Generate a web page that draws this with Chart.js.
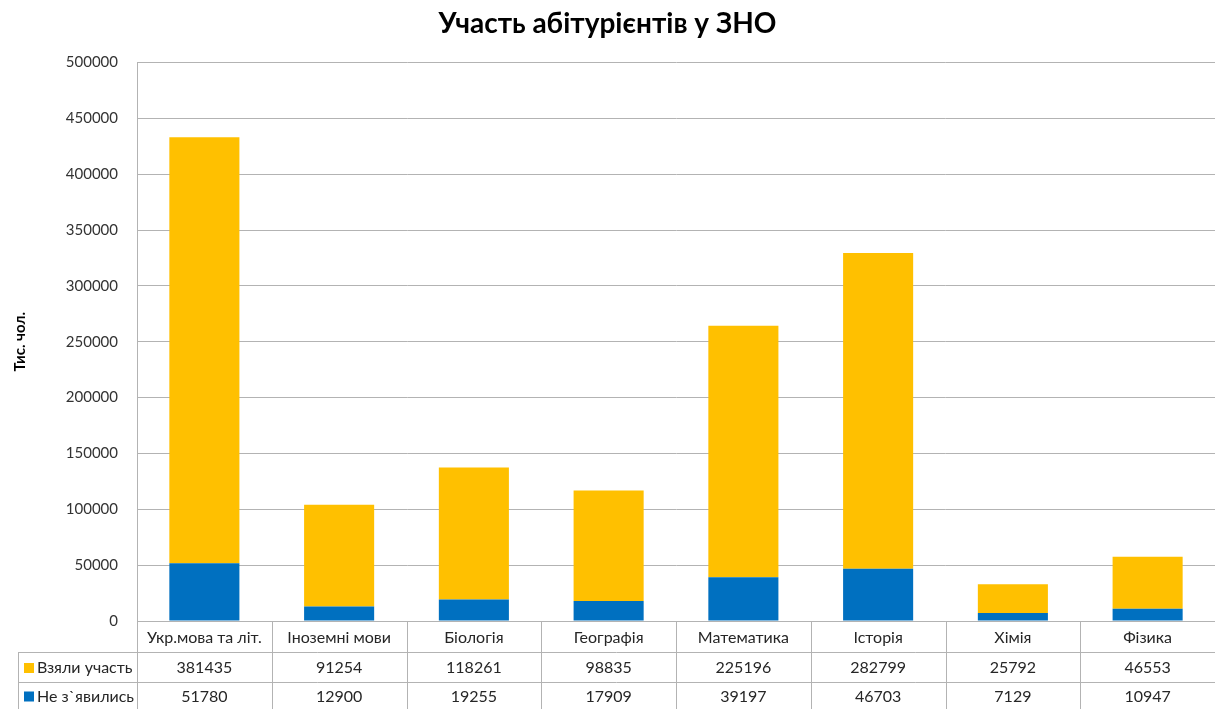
<!DOCTYPE html>
<html>
<head>
<meta charset="utf-8">
<script src="https://cdn.jsdelivr.net/npm/chart.js@4"></script>
<style>
  html, body { margin: 0; padding: 0; background: #fff; }
  #wrap { width: 1215px; height: 709px; position: relative; }
</style>
</head>
<body>
<div id="wrap"><canvas id="chart"></canvas></div>
<script>
// дані з таблиці
var categories = ["Укр.мова та літ.", "Іноземні мови", "Біологія", "Географія", "Математика", "Історія", "Хімія", "Фізика"];
var tookPart = [381435, 91254, 118261, 98835, 225196, 282799, 25792, 46553];
var noShow = [51780, 12900, 19255, 17909, 39197, 46703, 7129, 10947];
var seriesNames = ["Взяли участь", "Не з`явились"];
var yTicks = [0, 50000, 100000, 150000, 200000, 250000, 300000, 350000, 400000, 450000, 500000];

var yellow = "#FFC000";
var blue = "#0070C0";
var lineColor = "#b3b3b3";
var fontFamily = "Lato, 'Open Sans', sans-serif";

// таблиця під графіком
var dataTable = {
    id: "dataTable",
    afterDraw: function (chart) {
        var ctx = chart.ctx;
        var area = chart.chartArea;
        var xs = chart.scales.x;
        var n = categories.length;
        var colW = (area.right - area.left) / n;
        var top = area.bottom;
        var rows = [top, top + 31, top + 61, chart.height + 2];
        var legendLeft = 18;

        ctx.save();
        ctx.strokeStyle = lineColor;
        ctx.lineWidth = 1;
        ctx.beginPath();
        // горизонтальні лінії
        ctx.moveTo(area.left, rows[0] + 0.5);
        ctx.lineTo(chart.width, rows[0] + 0.5);
        ctx.moveTo(legendLeft, rows[1] + 0.5);
        ctx.lineTo(chart.width, rows[1] + 0.5);
        ctx.moveTo(legendLeft, rows[2] + 0.5);
        ctx.lineTo(chart.width, rows[2] + 0.5);
        // вертикальні лінії
        for (var i = 0; i <= n; i++) {
            var x = Math.round(area.left + i * colW) + 0.5;
            ctx.moveTo(x, rows[0]);
            ctx.lineTo(x, rows[3]);
        }
        ctx.moveTo(legendLeft + 0.5, rows[1]);
        ctx.lineTo(legendLeft + 0.5, rows[3]);
        ctx.stroke();

        ctx.fillStyle = "#262626";
        ctx.font = "16px " + fontFamily;
        ctx.textAlign = "center";
        ctx.textBaseline = "middle";
        for (var j = 0; j < n; j++) {
            var cx = xs.getPixelForValue(j);
            ctx.fillText(categories[j], cx, (rows[0] + rows[1]) / 2 + 1);
            ctx.fillText(String(tookPart[j]), cx, (rows[1] + rows[2]) / 2 + 1);
            ctx.fillText(String(noShow[j]), cx, (rows[2] + chart.height) / 2 + 1);
        }

        // легенда в першій колонці
        var legendRows = [[yellow, seriesNames[0], (rows[1] + rows[2]) / 2 + 1], [blue, seriesNames[1], (rows[2] + chart.height) / 2 + 1]];
        ctx.textAlign = "left";
        legendRows.forEach(function (r) {
            ctx.fillStyle = r[0];
            ctx.fillRect(24, r[2] - 5, 10, 10);
            ctx.fillStyle = "#262626";
            ctx.fillText(r[1], 37, r[2]);
        });
        ctx.restore();
    }
};

var ctx = document.getElementById("chart").getContext("2d");
var chart = new Chart(ctx, {
    type: "bar",
    data: {
        labels: categories,
        datasets: [
            {
                label: seriesNames[1],
                data: noShow,
                backgroundColor: blue,
                categoryPercentage: 1,
                barPercentage: 0.52
            },
            {
                label: seriesNames[0],
                data: tookPart,
                backgroundColor: yellow,
                categoryPercentage: 1,
                barPercentage: 0.52
            }
        ]
    },
    options: {
        responsive: true,
        maintainAspectRatio: false,
        animation: false,
        layout: {
            padding: { left: 0, right: 0, top: 0, bottom: 80 }
        },
        plugins: {
            legend: { display: false },
            tooltip: { enabled: false },
            title: {
                display: true,
                text: "Участь абітурієнтів у ЗНО",
                color: "#000",
                font: { family: fontFamily, size: 28, weight: "bold" },
                padding: { top: 7, bottom: 22 }
            }
        },
        scales: {
            x: {
                stacked: true,
                grid: { display: false },
                border: { display: false },
                ticks: { display: false }
            },
            y: {
                stacked: true,
                min: 0,
                max: 500000,
                afterBuildTicks: function (scale) {
                    scale.ticks = yTicks.map(function (v) { return { value: v }; });
                },
                afterFit: function (scale) {
                    scale.width = 137;
                },
                grid: { color: lineColor, drawTicks: false },
                border: { color: lineColor },
                ticks: {
                    padding: 19,
                    color: "#333",
                    font: { family: fontFamily, size: 15 },
                    callback: function (v) { return String(v); }
                },
                title: {
                    display: true,
                    text: "Тис. чол.",
                    color: "#000",
                    font: { family: fontFamily, size: 15, weight: "bold" },
                    padding: { top: 11, bottom: 0 }
                }
            }
        }
    },
    plugins: [dataTable]
});
</script>
</body>
</html>
